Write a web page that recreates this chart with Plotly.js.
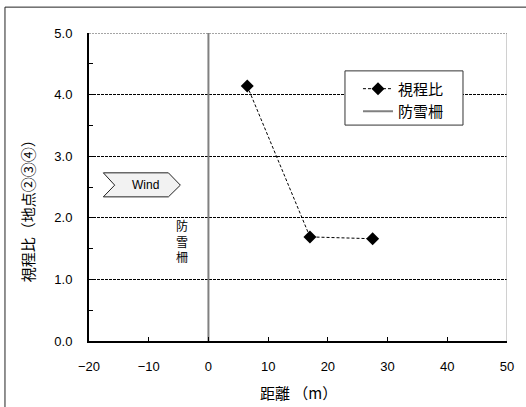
<!DOCTYPE html>
<html><head><meta charset="utf-8">
<script src="https://cdn.plot.ly/plotly-3.0.1.min.js"></script>
<style>body{margin:0;background:#fff}#c{width:526px;height:407px}</style>
</head><body><div id="c"></div>
<script>
var distance = [6.5, 17.0, 27.5];
var visRatio = [4.14, 1.69, 1.66];
var fenceX = [0, 0];
var fenceY = [0, 5];
var xTicks = [-20, -10, 0, 10, 20, 30, 40, 50];
var yTicks = [0, 1, 2, 3, 4, 5];
var yTickText = ['0.0', '1.0', '2.0', '3.0', '4.0', '5.0'];

var fontTick = 'Liberation Sans, Arial, "Noto Sans CJK JP", sans-serif';
var fontJP = '"Noto Sans CJK JP", sans-serif';

var traces = [
  {x: distance, y: visRatio, name: '視程比', mode: 'lines+markers', type: 'scatter',
   line: {color: '#000', width: 1, dash: '3px,2px'},
   marker: {symbol: 'diamond', size: 10, color: '#000'}},
  {x: fenceX, y: fenceY, name: '防雪柵', mode: 'lines', type: 'scatter',
   line: {color: '#808080', width: 2}}
];

var layout = {
  width: 526, height: 407,
  margin: {l: 89, r: 19, t: 33, b: 66},
  paper_bgcolor: '#fff', plot_bgcolor: '#fff',
  showlegend: true,
  legend: {x: 0.6435, y: 0.872, xanchor: 'left', yanchor: 'top',
    borderwidth: 0, bgcolor: 'rgba(0,0,0,0)', itemwidth: 30,
    font: {family: fontJP, size: 15, color: '#000'}, tracegroupgap: 0},
  xaxis: {range: [-20, 50], tickvals: xTicks, ticks: 'inside', ticklen: 4,
    tickcolor: '#000', showgrid: false, zeroline: false,
    showline: true, linecolor: '#000', linewidth: 2,
    tickfont: {family: fontTick, size: 13, color: '#000'}, ticklabelstandoff: 12},
  yaxis: {range: [0, 5], tickvals: yTicks, ticktext: yTickText, ticks: 'inside', ticklen: 4,
    tickcolor: '#000', showgrid: true, gridcolor: '#000', griddash: '3px,1px', gridwidth: 1,
    zeroline: false, showline: true, linecolor: '#000', linewidth: 2,
    minor: {dtick: 0.5, ticks: 'inside', ticklen: 4, tickcolor: '#000', showgrid: false},
    tickfont: {family: fontTick, size: 13, color: '#000'}, ticklabelstandoff: 12},
  shapes: [
    {type: 'line', xref: 'x', yref: 'y', x0: 50, x1: 50, y0: 0, y1: 5,
     line: {color: '#a0a0a0', width: 1}},
    {type: 'line', xref: 'x', yref: 'y', x0: -20, x1: 50, y0: 5, y1: 5,
     line: {color: '#888', width: 1.5, dash: '2px,1px'}},
    {type: 'path', xref: 'x', yref: 'y',
     path: 'M -17.6 2.73 L -6.7 2.73 L -4.7 2.53 L -6.7 2.34 L -17.6 2.34 L -15.7 2.53 Z',
     fillcolor: '#f2f2f2', line: {color: '#222', width: 1}},
    {type: 'rect', xref: 'paper', yref: 'paper', layer: 'above',
     x0: 0.6124, x1: 0.8947, y0: 0.701, y1: 0.877,
     fillcolor: '#fff', line: {color: '#333', width: 1}},
    {type: 'line', xref: 'paper', yref: 'paper', x0: -0.201, x1: -0.201, y0: -0.25, y1: 1.084,
     line: {color: '#222', width: 1}},
    {type: 'line', xref: 'paper', yref: 'paper', x0: -0.201, x1: 1.1, y0: 1.084, y1: 1.084,
     line: {color: '#222', width: 1}}
  ],
  annotations: [
    {xref: 'x', yref: 'y', x: -10.6, y: 2.535, text: 'Wind', showarrow: false,
     xanchor: 'center', yanchor: 'middle',
     font: {family: fontTick, size: 12, color: '#000'}},
    {xref: 'x', yref: 'y', x: -4.4, y: 1.62, text: '防<br>雪<br>柵', showarrow: false,
     xanchor: 'center', yanchor: 'middle',
     font: {family: fontJP, size: 12, color: '#000'}},
    {xref: 'paper', yref: 'paper', x: -0.148, y: 0.435, text: '視程比（地点②③④）', textangle: -90,
     xanchor: 'center', yanchor: 'middle',
     showarrow: false, font: {family: fontJP, size: 15, color: '#000'}},
    {xref: 'paper', yref: 'paper', x: 0.5, y: -0.166, xanchor: 'center', yanchor: 'middle',
     text: '距離 （m）', showarrow: false,
     font: {family: fontJP, size: 15, color: '#000'}}
  ]
};
Plotly.newPlot('c', traces, layout, {displayModeBar: false, staticPlot: true});
</script></body></html>
